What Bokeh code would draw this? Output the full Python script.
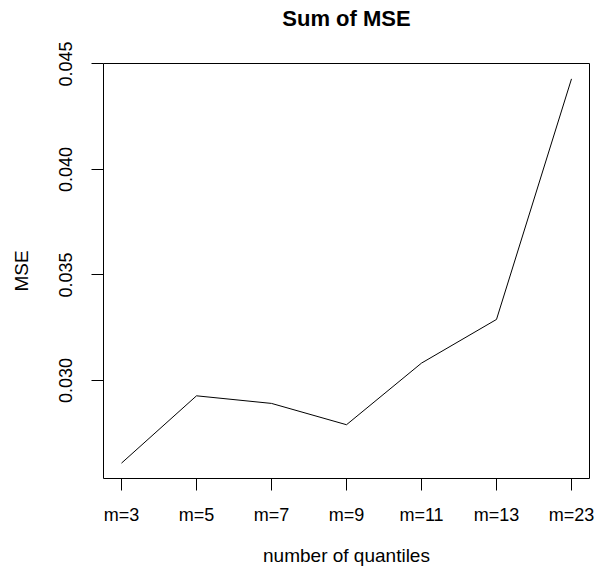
from bokeh.plotting import figure
from bokeh.models import Range1d, FixedTicker, ColumnDataSource, LinearAxis
from bokeh.embed import file_html
from bokeh.resources import INLINE

# Sum of MSE for each number of quantiles
categories = ["m=3", "m=5", "m=7", "m=9", "m=11", "m=13", "m=23"]
mse = [0.02608, 0.02927, 0.02891, 0.02790, 0.03082, 0.03289, 0.04429]
y_ticks = [0.030, 0.035, 0.040, 0.045]
y_tick_labels = ["0.030", "0.035", "0.040", "0.045"]
title_text = "Sum of MSE"

FONT = "Liberation Sans"

xs = list(range(1, len(categories) + 1))
# axis ranges padded by 4% on each side
xpad = (xs[-1] - xs[0]) * 0.04
ypad = (max(mse) - min(mse)) * 0.04

p = figure(
    width=597, height=574,
    x_range=Range1d(xs[0] - xpad, xs[-1] + xpad),
    y_range=Range1d(min(mse) - ypad, max(mse) + ypad),
    output_backend="svg", toolbar_location=None,
    min_border_left=103, min_border_right=8,
    min_border_top=63, min_border_bottom=96,
)

src = ColumnDataSource(dict(x=xs, y=mse))
p.line("x", "y", source=src, line_color="black", line_width=1)

p.xgrid.visible = False
p.ygrid.visible = False
p.background_fill_color = "white"
p.border_fill_color = "white"
p.outline_line_color = "black"
p.outline_line_width = 1

bottom = p.below[0]
left = p.left[0]

for ax in (bottom, left):
    ax.axis_line_color = None
    ax.major_tick_in = 0
    ax.major_tick_out = 12
    ax.major_tick_line_color = "black"
    ax.minor_tick_line_color = None
    ax.major_label_text_font = FONT
    ax.major_label_text_font_size = "18px"
    ax.major_label_text_color = "black"
    ax.axis_label_text_font = FONT
    ax.axis_label_text_font_size = "19px"
    ax.axis_label_text_font_style = "normal"
    ax.axis_label_text_color = "black"

bottom.ticker = FixedTicker(ticks=xs)
bottom.major_label_overrides = {x: c for x, c in zip(xs, categories)}
bottom.major_label_standoff = 14
bottom.axis_label = "number of quantiles"
bottom.axis_label_standoff = 17

left.ticker = FixedTicker(ticks=y_ticks)
left.major_label_overrides = {t: s for t, s in zip(y_ticks, y_tick_labels)}
left.major_label_orientation = "vertical"
left.major_label_standoff = 19
left.axis_label = "MSE"
left.axis_label_standoff = 25

# main title: an empty top axis whose label is the title text
top = LinearAxis(ticker=FixedTicker(ticks=[]))
top.axis_line_color = None
top.major_tick_out = 0
top.major_tick_in = 0
top.minor_tick_line_color = None
top.major_label_standoff = 0
top.axis_label = title_text
top.axis_label_standoff = 33
top.axis_label_text_font = FONT
top.axis_label_text_font_size = "22px"
top.axis_label_text_font_style = "bold"
top.axis_label_text_color = "black"
p.add_layout(top, "above")

open("out.html", "w").write(file_html(p, INLINE))
